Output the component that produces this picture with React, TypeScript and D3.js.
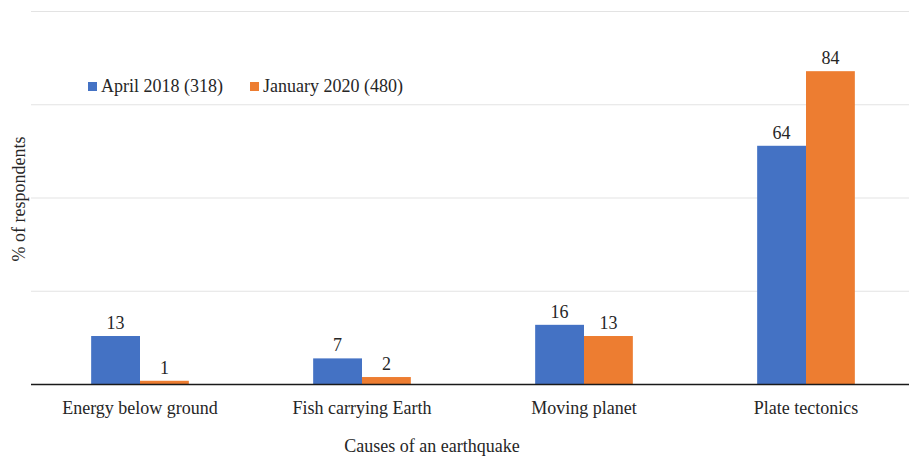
import React from 'react';
import * as d3 from 'd3';

const WIDTH = 909;
const HEIGHT = 457;

const categories = ['Energy below ground', 'Fish carrying Earth', 'Moving planet', 'Plate tectonics'];
const seriesNames = ['April 2018 (318)', 'January 2020 (480)'];
const april2018 = [13, 7, 16, 64];
const january2020 = [1, 2, 13, 84];
const gridTicks = [25, 50, 75, 100];
const colors = ['#4472C4', '#ED7D31'];

const FONT = '"Liberation Serif", "Times New Roman", serif';
const TEXT = '#262626';
const textStyle = { fontFamily: FONT, fontSize: 18 };

const x = d3.scaleBand<string>()
  .domain(categories)
  .range([29, 917])
  .paddingInner(0.56)
  .paddingOuter(0.28);

const sub = d3.scaleBand<string>()
  .domain(seriesNames)
  .range([0, x.bandwidth()]);

const y = d3.scaleLinear().domain([0, 100]).range([384.5, 11.5]);

const series = [april2018, january2020];
const legendX = [88, 250];

const App: React.FC = () => {
  return (
    <div style={{ position: 'absolute', left: 0, top: 0 }}>
      <svg width={WIDTH} height={HEIGHT} style={{ display: 'block', background: '#fff' }}>
        {/* gridlines */}
        {gridTicks.map(t => (
          <line key={t} x1={31} x2={WIDTH} y1={y(t)} y2={y(t)} stroke="#e3e3e3" strokeWidth={1} />
        ))}

        {/* bars + value labels */}
        {series.map((vals, si) => (
          <g key={si}>
            {vals.map((v, i) => {
              const bx = (x(categories[i]) ?? 0) + (sub(seriesNames[si]) ?? 0);
              return (
                <g key={i}>
                  <rect x={bx} y={y(v)} width={sub.bandwidth()} height={y(0) - y(v)} fill={colors[si]} />
                  <text x={bx + sub.bandwidth() / 2} y={y(v) - 7} textAnchor="middle" fill={TEXT} style={textStyle}>
                    {v}
                  </text>
                </g>
              );
            })}
          </g>
        ))}

        {/* baseline */}
        <line x1={31} x2={WIDTH} y1={y(0)} y2={y(0)} stroke="#1a1a1a" strokeWidth={1.5} />

        {/* category labels */}
        {categories.map(c => (
          <text key={c} x={(x(c) ?? 0) + x.bandwidth() / 2} y={y(0) + 29} textAnchor="middle" fill={TEXT} style={textStyle}>
            {c}
          </text>
        ))}

        {/* axis titles */}
        <text x={432} y={452} textAnchor="middle" fill={TEXT} style={textStyle}>
          Causes of an earthquake
        </text>
        <text transform="translate(25, 199) rotate(-90)" textAnchor="middle" fill={TEXT} style={textStyle}>
          % of respondents
        </text>

        {/* legend */}
        {seriesNames.map((name, i) => (
          <g key={name}>
            <rect x={legendX[i]} y={82} width={9} height={9} fill={colors[i]} />
            <text x={legendX[i] + 13} y={92} fill={TEXT} style={textStyle}>
              {name}
            </text>
          </g>
        ))}
      </svg>
    </div>
  );
};

export default App;
